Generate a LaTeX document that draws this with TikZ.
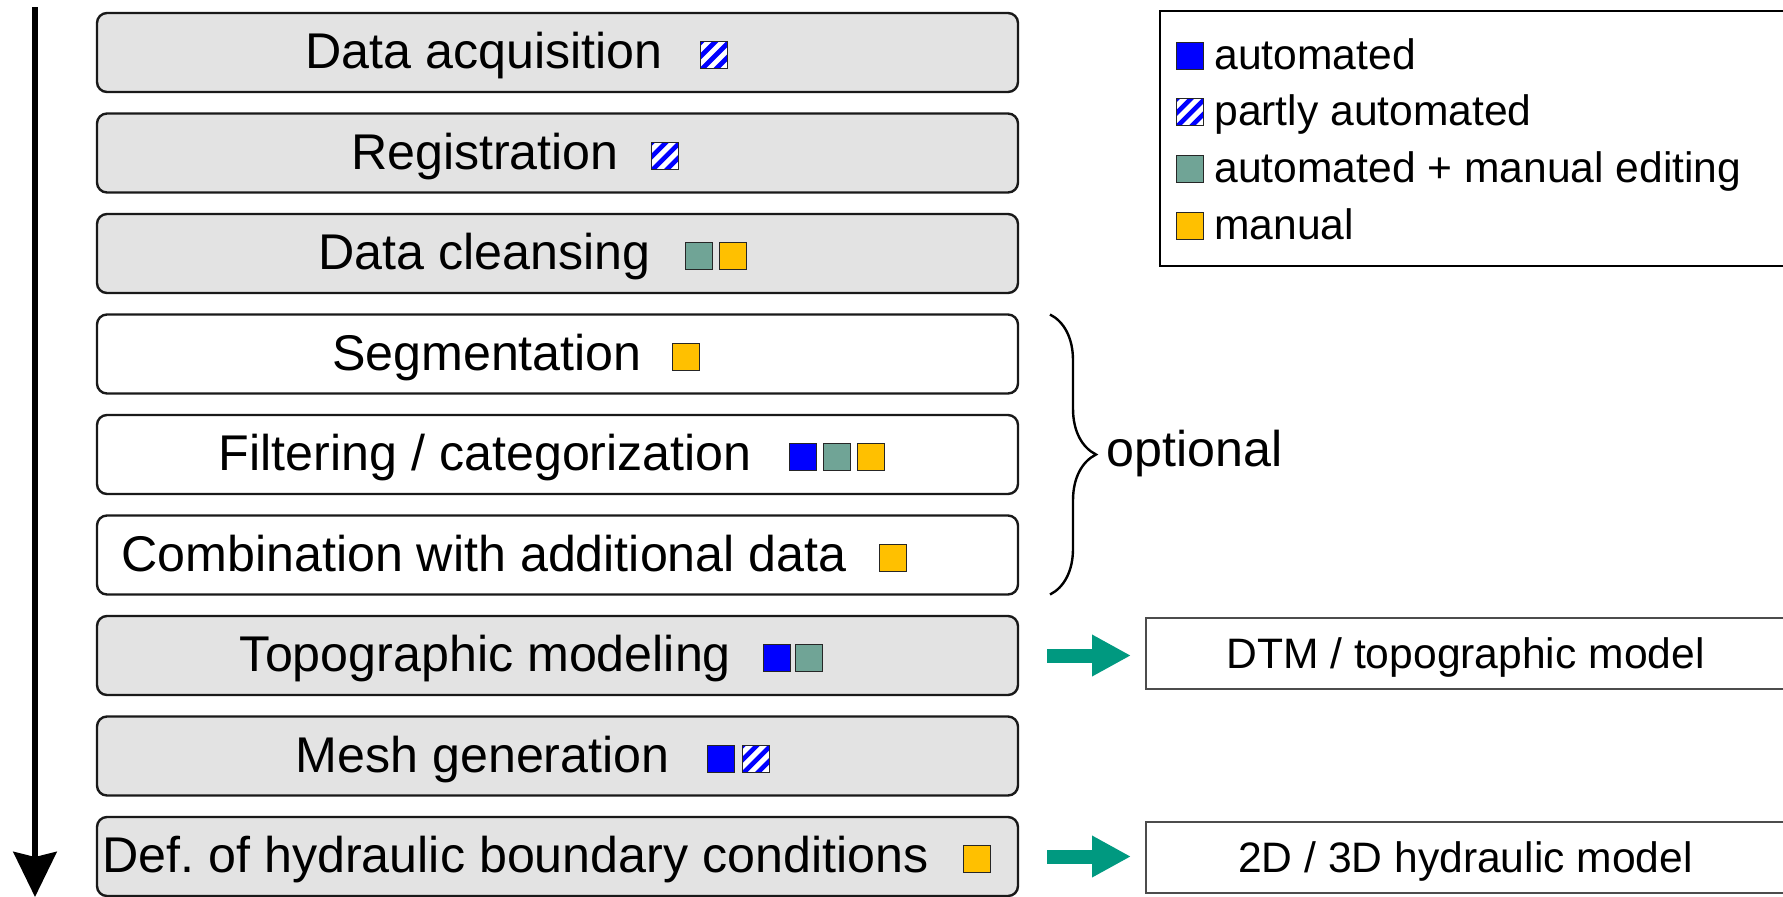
\documentclass[tikz,border=0pt]{standalone}
\usepackage{fontspec}
\setmainfont{Liberation Sans}
\usetikzlibrary{arrows.meta, positioning, decorations.pathreplacing}

\definecolor{autoblue}{RGB}{0,0,255}
\definecolor{editteal}{RGB}{112,164,150}
\definecolor{manorange}{RGB}{255,192,0}
\definecolor{flowgreen}{RGB}{0,153,128}
\definecolor{boxgray}{RGB}{227,227,227}

\begin{document}
\begin{tikzpicture}[
  x=0.5pt, y=-0.5pt,
  stage/.style    = {draw=black!90, line width=1.2pt, rounded corners=5pt, fill=boxgray,
                     minimum width=460.5pt, minimum height=39.5pt, outer sep=0pt},
  optstage/.style = {stage, fill=white},
  lbl/.style      = {inner sep=0pt, anchor=base west, font=\fontsize{25.1}{30}\selectfont},
  lgd/.style      = {inner sep=0pt, anchor=base west, font=\fontsize{21.3}{26}\selectfont},
  sq/.style       = {draw=black!85, line width=0.5pt, minimum size=13.5pt, inner sep=0pt,
                     outer sep=0pt, anchor=south west},
  autosq/.style   = {sq, fill=autoblue},
  editsq/.style   = {sq, fill=editteal},
  mansq/.style    = {sq, fill=manorange},
  partsq/.style   = {sq, fill=white, path picture={
      \foreach \k in {-17,-10,-3,4}
        \draw[autoblue, line width=2.3pt]
          ([xshift=\k*1pt, yshift=-4pt]path picture bounding box.south west) -- ++(26pt,26pt);}},
  outbox/.style   = {draw=black!70, line width=1pt, anchor=north west, outer sep=0pt,
                     minimum width=319.5pt, minimum height=35.5pt,
                     text height=15.2pt, text depth=0pt, font=\fontsize{21.3}{26}\selectfont},
  flow/.style     = {flowgreen, line width=7pt, -{Triangle[length=19.5pt, width=19.5pt]}},
  optbrace/.style = {decorate, decoration={brace, amplitude=23pt}, line width=1.2pt},
  timeline/.style = {line width=3pt, -{Stealth[length=22.5pt, width=21.5pt, inset=2.5pt]}},
]
  \useasboundingbox (0,0) rectangle (1783,896);

  % process steps
  \node[stage]                          (acq)   at (557.5,52.5) {};
  \node[stage,    below=10.75pt of acq]   (reg)   {};
  \node[stage,    below=10.75pt of reg]   (clean) {};
  \node[optstage, below=10.75pt of clean] (seg)   {};
  \node[optstage, below=10.75pt of seg]   (filt)  {};
  \node[optstage, below=10.75pt of filt]  (comb)  {};
  \node[stage,    below=10.75pt of comb]  (topo)  {};
  \node[stage,    below=10.75pt of topo]  (mesh)  {};
  \node[stage,    below=10.75pt of mesh]  (bound) {};

  \node[lbl] (acqL)   at ([xshift=104pt,  yshift=-8pt]acq.west)   {Data acquisition};
  \node[lbl] (regL)   at ([xshift=126.8pt,yshift=-8pt]reg.west)   {Registration};
  \node[lbl] (cleanL) at ([xshift=110.5pt,yshift=-8pt]clean.west) {Data cleansing};
  \node[lbl] (segL)   at ([xshift=117.3pt,yshift=-8pt]seg.west)   {Segmentation};
  \node[lbl] (filtL)  at ([xshift=60.75pt,yshift=-8pt]filt.west)  {Filtering / categorization};
  \node[lbl] (combL)  at ([xshift=11.9pt, yshift=-8pt]comb.west)  {Combination with additional data};
  \node[lbl] (topoL)  at ([xshift=71.25pt,yshift=-8pt]topo.west)  {Topographic modeling};
  \node[lbl] (meshL)  at ([xshift=99.15pt,yshift=-8pt]mesh.west)  {Mesh generation};
  \node[lbl] (boundL) at ([xshift=2.55pt, yshift=-8pt]bound.west) {Def.\ of hydraulic boundary conditions};

  % degree of automation
  \node[partsq, right=18.75pt of acqL.base east,   anchor=south west] (acqA)   {};
  \node[partsq, right=16.1pt  of regL.base east,   anchor=south west] (regA)   {};
  \node[editsq, right=17.2pt  of cleanL.base east, anchor=south west] (cleanA) {};
  \node[mansq,  right=3.5pt   of cleanA]                               (cleanB) {};
  \node[mansq,  right=15.2pt  of segL.base east,   anchor=south west] (segA)   {};
  \node[autosq, right=18.8pt  of filtL.base east,  anchor=south west] (filtA)  {};
  \node[editsq, right=3.3pt   of filtA]                                (filtB)  {};
  \node[mansq,  right=3.5pt   of filtB]                                (filtC)  {};
  \node[mansq,  right=16.4pt  of combL.base east,  anchor=south west] (combA)  {};
  \node[autosq, right=15.8pt  of topoL.base east,  anchor=south west] (topoA)  {};
  \node[editsq, right=2.7pt   of topoA]                                (topoB)  {};
  \node[autosq, right=18.7pt  of meshL.base east,  anchor=south west] (meshA)  {};
  \node[partsq, right=4pt     of meshA]                                (meshB)  {};
  \node[mansq,  right=17.5pt  of boundL.base east, anchor=south west] (boundA) {};

  % time axis
  \coordinate (tStart) at (35,7);
  \coordinate (tEnd)   at (35,897);
  \draw[timeline] (tStart) -- (tEnd);

  % optional steps
  \draw[optbrace] ([xshift=16pt]seg.north east) -- ([xshift=16pt]comb.south east);
  \node[lbl] (opt) at ([xshift=44pt, yshift=-6pt]filt.east) {optional};

  % legend
  \node[draw, line width=1.1pt, anchor=north west, minimum width=313pt, minimum height=127.5pt]
        (legend) at (1159,10) {};
  \node[autosq]                     (lgAuto) at (1176,69) {};
  \node[partsq, below=14.85pt of lgAuto] (lgPart) {};
  \node[editsq, below=14.85pt of lgPart] (lgEdit) {};
  \node[mansq,  below=14.85pt of lgEdit] (lgMan)  {};
  \node[lgd, right=5.5pt of lgAuto.south east, anchor=base west] (lgAutoT) {automated};
  \node[lgd, right=5.5pt of lgPart.south east, anchor=base west] (lgPartT) {partly automated};
  \node[lgd, right=5.5pt of lgEdit.south east, anchor=base west] (lgEditT) {automated + manual editing};
  \node[lgd, right=5.5pt of lgMan.south east,  anchor=base west] (lgManT)  {manual};

  % results
  \node[outbox] (dtm) at (1146,618) {DTM / topographic model};
  \node[outbox] (hyd) at (1146,822) {2D / 3D hydraulic model};
  \draw[flow] ([xshift=14.5pt]topo.east)  -- ([xshift=-7.5pt]topo.east -| dtm.west);
  \draw[flow] ([xshift=14.5pt]bound.east) -- ([xshift=-7.5pt]bound.east -| hyd.west);
\end{tikzpicture}
\end{document}
